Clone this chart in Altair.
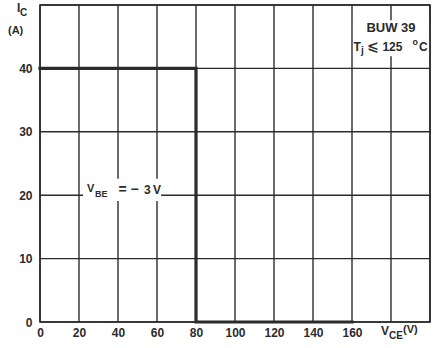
import altair as alt
import pandas as pd

# Safe operating area curve (V_BE = -3 V)
vce = [0, 80, 80, 160]
ic = [40, 40, 0, 0]

x_ticks = [0, 20, 40, 60, 80, 100, 120, 140, 160, 180, 200]
x_labels = [0, 20, 40, 60, 80, 100, 120, 140, 160]
y_ticks = [0, 10, 20, 30, 40, 50]
y_labels = [0, 10, 20, 30, 40]

FONT = "Liberation Sans"
INK = "#2b2b2b"

curve = pd.DataFrame({"vce": vce, "ic": ic, "order": list(range(len(vce)))})

xs = alt.Scale(domain=[0, 200], nice=False, zero=False)
ys = alt.Scale(domain=[0, 50], nice=False, zero=False)

axis_common = dict(
    grid=False, domain=False, ticks=False, title=None, labelOverlap=False,
    labelFlush=False, labelFont=FONT, labelFontWeight="bold", labelFontSize=12,
    labelColor=INK,
)

vgrid = alt.Chart(pd.DataFrame({"vce": x_ticks})).mark_rule(
    color=INK, strokeWidth=1.4).encode(
    x=alt.X("vce:Q", scale=xs, axis=alt.Axis(values=x_labels, labelPadding=5, **axis_common)))

hgrid = alt.Chart(pd.DataFrame({"ic": y_ticks})).mark_rule(
    color=INK, strokeWidth=1.4).encode(
    y=alt.Y("ic:Q", scale=ys, axis=alt.Axis(values=y_labels, labelPadding=8, **axis_common)))

line = alt.Chart(curve).mark_line(color=INK, strokeWidth=3.2, strokeCap="square",
                                  strokeJoin="miter").encode(
    x=alt.X("vce:Q", scale=xs), y=alt.Y("ic:Q", scale=ys), order="order:O")

# white backgrounds behind annotations
bg = pd.DataFrame({"x": [22.1, 160.5], "x2": [62.1, 199.5],
                   "y": [19.1, 41.9], "y2": [22.6, 47.6]})
bgs = alt.Chart(bg).mark_rect(color="white").encode(
    x=alt.X("x:Q", scale=xs), x2="x2", y=alt.Y("y:Q", scale=ys), y2="y2")


def txt(x, y, t, size, align="left", font=FONT):
    return alt.Chart(pd.DataFrame({"x": [x], "y": [y], "t": [t]})).mark_text(
        font=font, fontWeight="bold", fontSize=size, color=INK, align=align,
        baseline="middle").encode(
        x=alt.X("x:Q", scale=xs), y=alt.Y("y:Q", scale=ys), text="t:N")


notes = [
    txt(24.1, 20.9, "V", 11),
    txt(28.2, 20.2, "BE", 9),
    txt(40.2, 20.8, "=", 14),
    txt(46.4, 20.8, "\u2212", 14),
    txt(53.3, 20.8, "3", 12),
    txt(57.9, 20.8, "V", 12),
    txt(180.0, 46.4, "BUW 39", 13, align="center"),
    txt(160.8, 43.4, "T", 12),
    txt(164.6, 42.8, "j", 10),
    txt(167.8, 43.4, "\u2a7d", 14, font="DejaVu Sans"),
    txt(175.6, 43.4, "125", 12),
    txt(191.0, 44.1, "o", 9),
    txt(194.3, 43.4, "C", 12),
]


def ptxt(x, y, t, size):
    return alt.Chart(pd.DataFrame({"t": [t]})).mark_text(
        font=FONT, fontWeight="bold", fontSize=size, color=INK, align="left",
        baseline="middle").encode(x=alt.value(x), y=alt.value(y), text="t:N")


titles = [
    ptxt(-23, 3, "I", 12),
    ptxt(-20, 7.5, "C", 10),
    ptxt(-32, 26, "(A)", 11),
    ptxt(341, 326, "V", 12),
    ptxt(349, 331, "CE", 10),
    ptxt(363, 325, "(V)", 11),
]

chart = alt.layer(vgrid, hgrid, line, bgs, *notes, *titles).properties(
    width=390, height=317,
    autosize=alt.AutoSizeParams(type="none"),
    padding={"left": 40, "top": 5, "right": 6, "bottom": 26},
    background="white",
).configure_view(stroke=INK, strokeWidth=1.6)

chart.save("out.html", embed_options={"renderer": "svg", "actions": False})
